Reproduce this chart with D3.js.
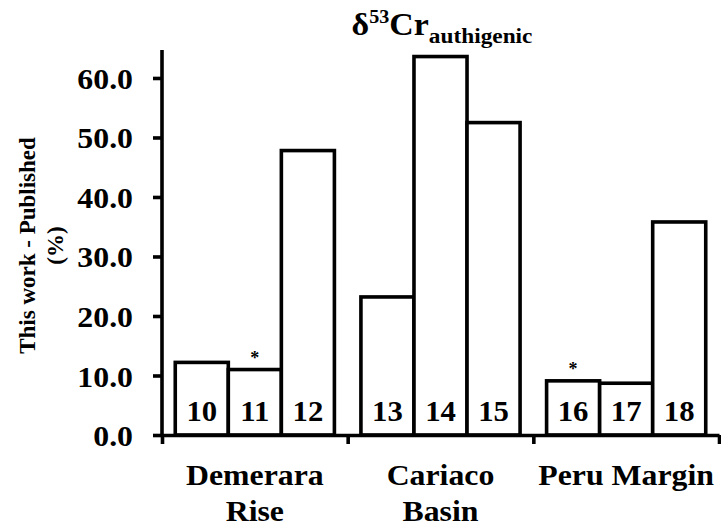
<!doctype html>
<html>
<head>
<meta charset="utf-8">
<script src="https://cdn.jsdelivr.net/npm/d3@7"></script>
<style>
  body { margin: 0; background: #fff; }
</style>
</head>
<body>
<script>
// Sites and the samples in each one.
const sites = ["Demerara Rise", "Cariaco Basin", "Peru Margin"];
const siteLines = [["Demerara", "Rise"], ["Cariaco", "Basin"], ["Peru Margin"]];
const samples = [10, 11, 12, 13, 14, 15, 16, 17, 18];
const sampleSite = ["Demerara Rise", "Demerara Rise", "Demerara Rise",
  "Cariaco Basin", "Cariaco Basin", "Cariaco Basin",
  "Peru Margin", "Peru Margin", "Peru Margin"];
// Difference between this work and published values (%).
const diffs = [12.2, 11.0, 47.8, 23.2, 63.6, 52.5, 9.1, 8.7, 35.8];
const starred = [11, 16];
const yTicks = [0, 10, 20, 30, 40, 50, 60];

const width = 721;
const height = 527;
const marginLeft = 162;
const marginRight = 2;
const marginTop = 50;
const marginBottom = 92;
const font = "'Liberation Serif', 'Times New Roman', serif";
const stretch = 1.06;

const svg = d3.select("body").append("svg")
    .attr("width", width)
    .attr("height", height)
    .attr("viewBox", [0, 0, width, height])
    .style("font-family", font)
    .style("font-weight", "bold");

// Scales.
const x = d3.scaleBand(sites, [marginLeft, width - marginRight]);
const xEdge = d3.scaleLinear([0, sites.length], [marginLeft, width - marginRight]);
const xi = d3.scaleBand([0, 1, 2], [0, x.bandwidth()]).paddingOuter(0.25);
const y = d3.scaleLinear([0, 64.7], [height - marginBottom, marginTop]);

const data = samples.map((s, i) => ({id: s, site: sampleSite[i], k: i % 3, value: diffs[i]}));
const cx = (d) => x(d.site) + xi(d.k) + xi.bandwidth() / 2;

// Bars.
svg.append("g")
    .attr("fill", "#fff")
    .attr("stroke", "#000")
    .attr("stroke-width", 3.6)
  .selectAll("rect")
  .data(data)
  .join("rect")
    .attr("x", (d) => x(d.site) + xi(d.k))
    .attr("y", (d) => y(d.value))
    .attr("width", xi.bandwidth())
    .attr("height", (d) => y(0) - y(d.value));

// Sample numbers inside the bars.
svg.append("g")
    .attr("text-anchor", "middle")
    .style("font-size", "29px")
  .selectAll("text")
  .data(data)
  .join("text")
    .attr("transform", (d) => `translate(${cx(d)},${y(0) - 14}) scale(${stretch},1)`)
    .text((d) => d.id);

// Asterisks.
svg.append("g")
    .attr("text-anchor", "middle")
    .style("font-size", "18px")
  .selectAll("text")
  .data(data.filter((d) => starred.includes(d.id)))
  .join("text")
    .attr("x", cx)
    .attr("y", (d) => y(d.value) - 6)
    .text("*");

// Y axis.
svg.append("g")
    .attr("transform", `translate(${marginLeft},0)`)
    .call(d3.axisLeft(y).tickValues(yTicks).tickFormat(d3.format(".1f")).tickSize(9).tickSizeOuter(0).tickPadding(0))
    .call((g) => g.attr("font-family", null).attr("font-size", null))
    .call((g) => g.select(".domain").attr("stroke-width", 3.6).attr("d", `M0,${y(64.7)}V${y(0) + 2}`))
    .call((g) => g.selectAll(".tick line").attr("stroke-width", 3.6))
    .call((g) => g.selectAll(".tick text")
        .attr("x", null)
        .attr("transform", `translate(-29,0) scale(${stretch},1)`)
        .style("font-size", "30px")
        .attr("dy", "0.35em"));

// X axis with ticks at the site boundaries.
svg.append("g")
    .attr("transform", `translate(0,${y(0)})`)
    .call(d3.axisBottom(xEdge).ticks(3).tickFormat("").tickSize(9).tickSizeOuter(0))
    .call((g) => g.select(".domain").attr("stroke-width", 3.6))
    .call((g) => g.selectAll(".tick line").attr("stroke-width", 3.6));

// Site labels.
svg.append("g")
    .attr("text-anchor", "middle")
    .style("font-size", "30px")
  .selectAll("text")
  .data(sites)
  .join("text")
    .attr("transform", (d) => `translate(${x(d) + x.bandwidth() / 2},${y(0) + 50}) scale(${stretch},1)`)
  .selectAll("tspan")
  .data((d, i) => siteLines[i])
  .join("tspan")
    .attr("x", 0)
    .attr("dy", (d, i) => i ? 36 : 0)
    .text((d) => d);

// Y axis title.
svg.append("text")
    .attr("transform", `translate(35,${(marginTop + y(0)) / 2 + 3}) rotate(-90)`)
    .attr("text-anchor", "middle")
    .style("font-size", "23px")
  .selectAll("tspan")
  .data(["This work - Published", "(%)"])
  .join("tspan")
    .attr("x", 0)
    .attr("dy", (d, i) => i ? 28 : 0)
    .text((d) => d);

// Chart title.
const title = svg.append("text")
    .attr("transform", `translate(442,35) scale(${stretch},1)`)
    .attr("text-anchor", "middle")
    .style("font-size", "32px");
title.append("tspan").text("δ");
title.append("tspan").style("font-size", "19px").attr("dy", -12).text("53");
title.append("tspan").attr("dy", 12).text("Cr");
title.append("tspan").style("font-size", "22px").attr("dy", 8).text("authigenic");
</script>
</body>
</html>
